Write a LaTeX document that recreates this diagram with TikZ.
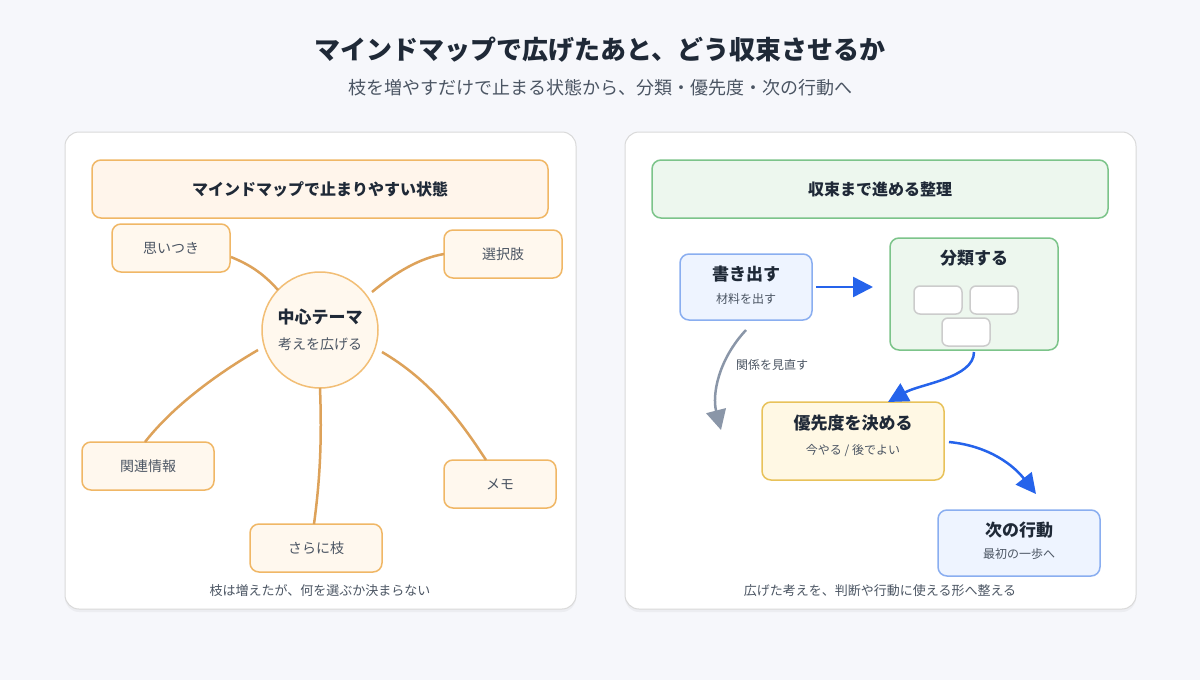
\documentclass[tikz,border=0pt]{standalone}
\usepackage{fontspec}
\setmainfont{Noto Sans CJK JP}
\usetikzlibrary{arrows.meta,shadows}
\definecolor{bg}{HTML}{F6F7FB}
\definecolor{ink}{HTML}{1F2937}
\definecolor{sub}{HTML}{4B5563}
\definecolor{org}{HTML}{F0B766}
\definecolor{orgf}{HTML}{FFF8EE}
\definecolor{branch}{HTML}{DDA25A}
\definecolor{grn}{HTML}{7CC48A}
\definecolor{grnf}{HTML}{EDF7EE}
\definecolor{blu}{HTML}{8AAEF0}
\definecolor{bluf}{HTML}{EEF4FF}
\definecolor{arr}{HTML}{2563EB}
\definecolor{gry}{HTML}{8A96A8}
\definecolor{yel}{HTML}{E8C25A}
\definecolor{yelf}{HTML}{FFF8E4}
\tikzset{
 panel/.style={draw=black!15,line width=1pt,fill=white,rounded corners=14pt,drop shadow={opacity=0.08,shadow xshift=0pt,shadow yshift=-3pt}},
 box/.style={draw=#1,line width=1.5pt,rounded corners=9pt},
 lbl/.style={font=\fontsize{14}{16}\selectfont,text=sub},
 br/.style={draw=branch,line width=2.5pt},
 barr/.style={draw=arr,line width=2.5pt,-{Triangle[length=20pt,width=20pt]}},
}
\begin{document}
\begin{tikzpicture}[x=1pt,y=-1pt]
\fill[bg] (0,0) rectangle (1200,680);
\useasboundingbox (0,0) rectangle (1200,680);
\node[text=ink,font=\bfseries\fontsize{26}{30}\selectfont] (title) at (600,50) {マインドマップで広げたあと、どう収束させるか};
\node[text=sub,font=\fontsize{18}{22}\selectfont] (subt) at (600,88) {枝を増やすだけで止まる状態から、分類・優先度・次の行動へ};
% left panel
\path[panel] (65,132) rectangle (576,609);
\path[box=org,fill=orange!8] (92,160) rectangle (548,218);
\node[text=ink,font=\bfseries\fontsize{16}{18}\selectfont] (lh) at (320,189) {マインドマップで止まりやすい状態};
\node[circle,draw=org!90,fill=orgf,line width=1.5pt,minimum size=116pt] (c) at (320,330) {};
\node[text=ink,font=\bfseries\fontsize{17}{20}\selectfont] (ct) at (320,317) {中心テーマ};
\node[lbl] (cs) at (320,344) {考えを広げる};
\path[box=org,fill=orgf] (112,224) rectangle (230,272); \node[lbl] (b1) at (171,248) {思いつき};
\path[box=org,fill=orgf] (444,230) rectangle (562,278); \node[lbl] (b2) at (503,254) {選択肢};
\path[box=org,fill=orgf] (82,442) rectangle (214,490); \node[lbl] (b3) at (148,466) {関連情報};
\path[box=org,fill=orgf] (444,460) rectangle (556,508); \node[lbl] (b4) at (500,484) {メモ};
\path[box=org,fill=orgf] (250,524) rectangle (382,572); \node[lbl] (b5) at (316,548) {さらに枝};
\draw[br] (278,290) .. controls (262,272) and (248,264) .. (231,257);
\draw[br] (372,292) .. controls (396,272) and (420,258) .. (444,254);
\draw[br] (258,350) .. controls (210,378) and (170,410) .. (145,442);
\draw[br] (320,388) .. controls (322,440) and (320,480) .. (314,524);
\draw[br] (382,352) .. controls (430,380) and (460,420) .. (486,460);
\node[text=sub,font=\fontsize{13}{15}\selectfont] (lc) at (320,591) {枝は増えたが、何を選ぶか決まらない};
% right panel
\path[panel] (625,132) rectangle (1136,609);
\path[box=grn,fill=grnf] (652,160) rectangle (1108,218);
\node[text=ink,font=\bfseries\fontsize{16}{18}\selectfont] (rh) at (880,189) {収束まで進める整理};
\path[box=blu,fill=bluf] (680,254) rectangle (812,320);
\node[text=ink,font=\bfseries\fontsize{17}{20}\selectfont] (w) at (746,274) {書き出す};
\node[text=sub,font=\fontsize{12}{14}\selectfont] (ws) at (746,299) {材料を出す};
\path[box=grn,fill=grnf] (890,238) rectangle (1058,350);
\node[text=ink,font=\bfseries\fontsize{17}{20}\selectfont] (cl) at (974,258) {分類する};
\path[draw=black!20,line width=1.5pt,fill=white,rounded corners=6pt] (914,286) rectangle (962,314);
\path[draw=black!20,line width=1.5pt,fill=white,rounded corners=6pt] (970,286) rectangle (1018,314);
\path[draw=black!20,line width=1.5pt,fill=white,rounded corners=6pt] (942,318) rectangle (990,346);
\path[box=yel,fill=yelf] (762,402) rectangle (944,480);
\node[text=ink,font=\bfseries\fontsize{17}{20}\selectfont] (p) at (853,423) {優先度を決める};
\node[text=sub,font=\fontsize{12}{14}\selectfont] (ps) at (853,451) {今やる / 後でよい};
\path[box=blu,fill=bluf] (938,510) rectangle (1100,576);
\node[text=ink,font=\bfseries\fontsize{17}{20}\selectfont] (n) at (1019,530) {次の行動};
\node[text=sub,font=\fontsize{12}{14}\selectfont] (ns) at (1019,554) {最初の一歩へ};
\coordinate (a1) at (816,287); \coordinate (a2) at (873,287);
\draw[barr] (a1) -- (a2);
\coordinate (c1) at (974,352); \coordinate (c2) at (888,402);
\draw[barr] (c1) .. controls (974,378) and (920,384) .. (c2);
\coordinate (d1) at (746,330); \coordinate (d2) at (721,430);
\draw[draw=gry,line width=2.5pt,-{Triangle[length=20pt,width=20pt]}] (d1) .. controls (718,360) and (712,395) .. (d2);
\node[text=sub,font=\fontsize{12}{14}\selectfont] (rl) at (772,365) {関係を見直す};
\coordinate (e1) at (949,442); \coordinate (e2) at (1036,494);
\draw[barr] (e1) .. controls (990,446) and (1014,466) .. (e2);
\node[text=sub,font=\fontsize{13}{15}\selectfont] (rc) at (880,591) {広げた考えを、判断や行動に使える形へ整える};
\end{tikzpicture}
\end{document}
